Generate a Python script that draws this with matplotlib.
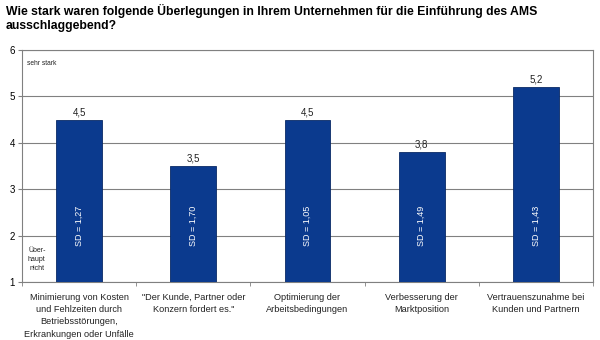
import matplotlib
matplotlib.use("Agg")
import matplotlib.pyplot as plt
import numpy as np

plt.rcParams['font.family'] = ['Liberation Sans', 'DejaVu Sans']

categories = [
    "Minimierung von Kosten\nund Fehlzeiten durch\nBetriebsstörungen,\nErkrankungen oder Unfälle",
    "\"Der Kunde, Partner oder\nKonzern fordert es.\"",
    "Optimierung der\nArbeitsbedingungen",
    "Verbesserung der\nMarktposition",
    "Vertrauenszunahme bei\nKunden und Partnern",
]
means = [4.5, 3.5, 4.5, 3.8, 5.2]
sds = [1.27, 1.70, 1.05, 1.49, 1.43]

def de(v, digits):
    return f"{v:.{digits}f}".replace(".", ",")

fig = plt.figure(figsize=(6, 3.4), dpi=100)
ax = fig.add_axes([22/600, 1 - 282/340, (593-22)/600, (282-50)/340])

x = np.arange(len(means))
ax.bar(x, [m - 1 for m in means], bottom=1, width=0.4, color="#0b3a8e",
       edgecolor="#0a2a66", linewidth=0.6, zorder=3)

for xi, m, s in zip(x, means, sds):
    ax.text(xi, m + 0.05, de(m, 1), ha="center", va="bottom", fontsize=7, color="#222222")
    ax.text(xi, 2.2, "SD = " + de(s, 2), ha="center", va="center", rotation=90,
            fontsize=6.5, color="white", zorder=4)

ax.set_xlim(-0.5, len(means) - 0.5)
ax.set_ylim(1, 6)
ax.set_yticks([1, 2, 3, 4, 5, 6])
ax.yaxis.grid(True, color="#808080", linewidth=0.8, zorder=0)
ax.set_axisbelow(True)

ax.set_xticks(np.arange(len(means) + 1) - 0.5, minor=True)
ax.set_xticks(x)
ax.set_xticklabels(categories, fontsize=6.6, color="#222222", linespacing=1.45)
ax.tick_params(axis="x", which="major", length=0, pad=8)
ax.tick_params(axis="x", which="minor", length=3, color="#808080", direction="out")
ax.tick_params(axis="y", length=3, color="#808080", labelsize=7, pad=2)

for side in ["top", "right", "bottom", "left"]:
    ax.spines[side].set_color("#808080")
    ax.spines[side].set_linewidth(0.8)

ax.text(-0.46, 5.7, "sehr stark", fontsize=4.8, color="#222222", va="center")
ax.text(-0.37, 1.48, "Über-\nhaupt\nnicht", fontsize=5, color="#222222",
        ha="center", va="center", linespacing=1.4)

fig.text(6/600, 1 - 4/340, "Wie stark waren folgende Überlegungen in Ihrem Unternehmen für die Einführung des AMS\nausschlaggebend?",
         fontsize=8.8, fontweight="bold", va="top", ha="left", linespacing=1.25)

fig.savefig("out.png", dpi=100)
